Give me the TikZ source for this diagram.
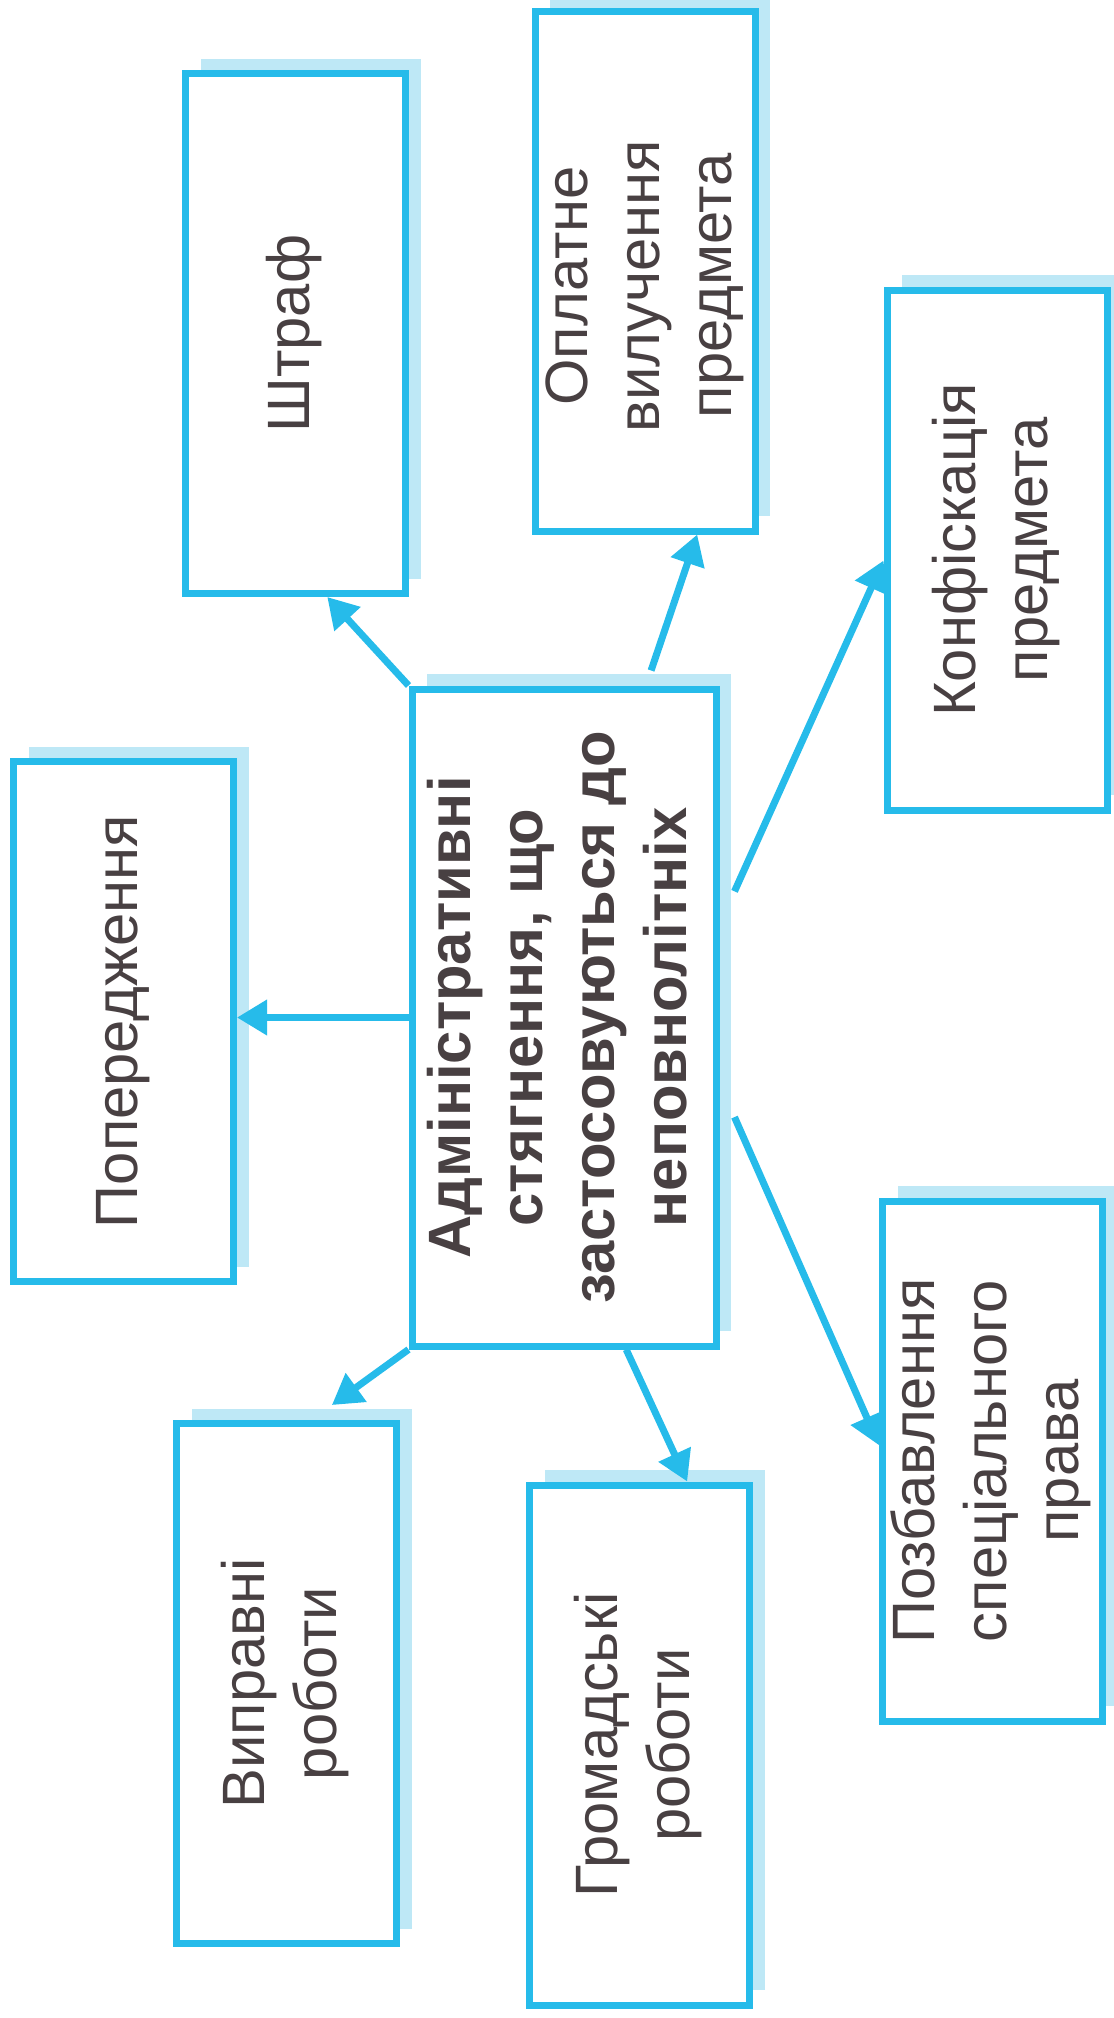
\documentclass[tikz,border=0pt]{standalone}
\usepackage{fontspec}
\setmainfont{Liberation Sans}
\usepackage{tikz}
\usetikzlibrary{arrows.meta, calc, shadows}

\definecolor{lineblue}{RGB}{38,187,234}
\definecolor{shadeblue}{RGB}{190,232,246}
\definecolor{inkgray}{RGB}{72,64,66}

\newcommand{\vlab}[2][0mm]{\rotatebox{90}{\begin{tabular}{@{}c@{}}#2\end{tabular}\hspace*{#1}}}

\tikzset{
  box/.style = {draw = lineblue, line width = 0.7mm, fill = white, inner sep = 0pt,
    minimum width = 22mm, minimum height = 52mm, text = inkgray,
    font = \fontsize{17}{20.5}\selectfont,
    general shadow = {fill = shadeblue, shadow xshift = 1.5mm, shadow yshift = 1.5mm}},
  arr/.style = {draw = lineblue, line width = 0.7mm, -{Triangle[length = 3mm, width = 3.4mm]}}
}

\begin{document}
\begin{tikzpicture}[x = 0.1mm, y = -0.1mm]
\useasboundingbox (0,0) rectangle (1114,2018);
\fill[white] (0,0) rectangle (1114,2018);

\node[box, minimum width = 30.4mm, minimum height = 65.7mm, font = \fontsize{17}{20.5}\selectfont\bfseries] (central) at (564,1017.5)
  {\vlab{Адміністративні\\стягнення, що\\застосовуються до\\неповнолітніх}};
\node[box] (shtraf) at (295.5,333.5) {\vlab{Штраф}};
\node[box] (oplatne) at (645,271) {\vlab[3mm]{Оплатне\\вилучення\\предмета}};
\node[box] (konfisk) at (997,550) {\vlab{Конфіскація\\предмета}};
\node[box] (popered) at (123.5,1021.5) {\vlab{Попередження}};
\node[box] (vypravni) at (286.5,1683.5) {\vlab{Виправні\\роботи}};
\node[box] (hromad) at (639.5,1745) {\vlab{Громадські\\роботи}};
\node[box] (pozbav) at (992.5,1461) {\vlab{Позбавлення\\спеціального\\права}};

\draw[arr] (central.north west) -- ($(shtraf.south west)!0.64!(shtraf.south east)$);
\draw[arr] ($(central.north west)!0.78!(central.north east) + (0,-15)$) -- ($(oplatne.south west)!0.73!(oplatne.south east)$);
\draw[arr] ($(central.north east)!0.31!(central.south east) + (15,0)$) -- ($(konfisk.north west)!0.52!(konfisk.south west)$);
\draw[arr] (central.west) -- (central.west -| popered.east);
\draw[arr] (central.south west) -- ($(vypravni.north west)!0.70!(vypravni.north east) + (0,-15)$);
\draw[arr] ($(central.south west)!0.70!(central.south east)$) -- ($(hromad.north west)!0.71!(hromad.north east)$);
\draw[arr] ($(central.north east)!0.65!(central.south east) + (15,0)$) -- ($(pozbav.north west)!0.47!(pozbav.south west)$);
\end{tikzpicture}
\end{document}
